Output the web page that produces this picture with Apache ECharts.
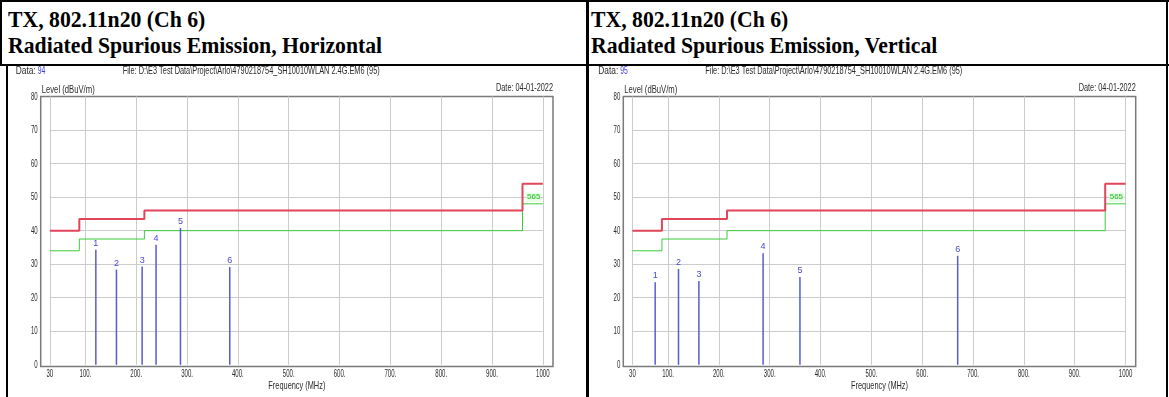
<!DOCTYPE html>
<html>
<head>
<meta charset="utf-8">
<script src="https://cdn.jsdelivr.net/npm/echarts@6/dist/echarts.min.js"></script>
<style>
html,body{margin:0;padding:0;background:#fff;}
#wrap{position:relative;width:1169px;height:397px;overflow:hidden;}
.ttl{position:absolute;top:0;height:64px;overflow:hidden;font-family:"Liberation Serif","Times New Roman",serif;font-weight:bold;font-size:24px;line-height:26px;color:#000;white-space:nowrap;}
.ttl div{padding-top:6px;transform:scaleX(0.905);transform-origin:0 0;}
.bl{position:absolute;background:#000;}
#chart{position:absolute;left:0;top:0;width:1169px;height:397px;}
</style>
</head>
<body>
<div id="wrap">
  <div class="ttl" style="left:8px;width:578px;"><div>TX, 802.11n20 (Ch 6)<br>Radiated Spurious Emission, Horizontal</div></div>
  <div class="ttl" style="left:591px;width:575px;"><div>TX, 802.11n20 (Ch 6)<br>Radiated Spurious Emission, Vertical</div></div>
  <div id="chart"></div>
  <div class="bl" style="left:0;top:0;width:1169px;height:2px;"></div>
  <div class="bl" style="left:0;top:0;width:2px;height:65px;"></div>
  <div class="bl" style="left:6px;top:64px;width:2px;height:333px;"></div>
  <div class="bl" style="left:586px;top:0;width:3px;height:397px;"></div>
  <div class="bl" style="left:1166px;top:0;width:2px;height:397px;"></div>
  <div class="bl" style="left:0;top:64px;width:1169px;height:2px;"></div>
</div>
<script>
// ---- data ----
const xTicks = [30, 100, 200, 300, 400, 500, 600, 700, 800, 900, 1000];
const yTicks = [0, 10, 20, 30, 40, 50, 60, 70, 80];
const limitFreqs = [30, 88, 216, 960, 1000];
const redLimit = [40, 43.5, 46, 54];
const greenLimit = [34, 37.5, 40, 48];
const hFreq = [120.5, 161, 211.6, 239, 287, 384];
const hLevel = [34.3, 28.4, 29.3, 35.8, 40.8, 29.2];
const vFreq = [74.7, 120.6, 160.7, 287, 359.5, 669.8];
const vLevel = [24.6, 28.6, 25.0, 33.3, 26.2, 32.5];
const dataNo = ['94', '95'];
const fileText = 'File: D:\\E3 Test Data\\Project\\Arlo\\4790218754_SH10010WLAN 2.4G.EM6 (95)';
const dateText = 'Date: 04-01-2022';
const xName = 'Frequency (MHz)';
const yName = 'Level (dBuV/m)';
const limitTag = '565';

// ---- build ----
const FONT = '"Liberation Sans",Arial,sans-serif';
const TXT = '#2a2a2a';
const cv = document.createElement('canvas').getContext('2d');
function fitScale(text, size, target){
  cv.font = size + 'px ' + FONT;
  return target / cv.measureText(text).width;
}
function stepPts(levels){
  const pts = [];
  for (let i = 0; i < levels.length; i++){
    pts.push([limitFreqs[i], levels[i]]);
    pts.push([limitFreqs[i+1], levels[i]]);
  }
  return pts;
}
function gridLines(){
  const d = [];
  xTicks.forEach(x => d.push([{coord:[x, 0]}, {coord:[x, 80]}]));
  yTicks.filter(y => y > 0 && y < 80).forEach(y => d.push([{coord:[30, y]}, {coord:[1000, y]}]));
  return d;
}
const grids = [
  {left: 40.7, top: 96.5, width: 512.3, height: 270, show: true, borderColor: '#7a7a7a', borderWidth: 1.5, backgroundColor: 'transparent'},
  {left: 623.3, top: 96.5, width: 512.4, height: 270, show: true, borderColor: '#7a7a7a', borderWidth: 1.5, backgroundColor: 'transparent'}
];
const xAxes = grids.map((g, i) => ({
  type: 'value', gridIndex: i, min: 12, max: 1020,
  axisLine: {show: false}, axisTick: {show: false}, splitLine: {show: false}, axisLabel: {show: false}
}));
const yAxes = grids.map((g, i) => ({
  type: 'value', gridIndex: i, min: -0.5, max: 80,
  axisLine: {show: false}, axisTick: {show: false}, splitLine: {show: false}, axisLabel: {show: false}
}));
const series = [];
const markers = [[hFreq, hLevel], [vFreq, vLevel]];
[0, 1].forEach(i => {
  series.push({type: 'line', xAxisIndex: i, yAxisIndex: i, data: [], silent: true, z: 0,
    markLine: {silent: true, z: 0, symbol: ['none','none'], label: {show: false},
      lineStyle: {color: '#cccccc', width: 1, type: 'solid'}, data: gridLines(), animation: false}});
  series.push({type: 'line', xAxisIndex: i, yAxisIndex: i, data: stepPts(greenLimit), showSymbol: false,
    lineStyle: {color: '#3ccc3c', width: 1}, itemStyle: {color: '#3ccc3c'}, z: 3, animation: false,
    markPoint: {z: 3, symbol: 'rect', symbolSize: [16, 9], itemStyle: {color: 'rgba(210,255,210,0.6)'},
      label: {show: true, formatter: limitTag, color: '#22bb22', fontSize: 8, fontFamily: FONT},
      data: [{coord: [982, 50]}]}});
  series.push({type: 'line', xAxisIndex: i, yAxisIndex: i, data: stepPts(redLimit), showSymbol: false,
    lineStyle: {color: '#e24459', width: 2}, itemStyle: {color: '#e24459'}, z: 4, animation: false});
  series.push({type: 'bar', xAxisIndex: i, yAxisIndex: i, barWidth: 1.5, z: 5, animation: false,
    data: markers[i][0].map((f, k) => [f, markers[i][1][k]]),
    itemStyle: {color: '#5a5ad2'},
    label: {show: true, position: 'top', distance: 2, color: '#4848d0', fontSize: 9, fontFamily: FONT,
      formatter: p => String(p.dataIndex + 1)}});
});
const chart = echarts.init(document.getElementById('chart'), null, {renderer: 'canvas'});
chart.setOption({animation: false, grid: grids, xAxis: xAxes, yAxis: yAxes, series: series});

// ---- texts placed with the axes' own scales ----
const graphic = [];
function txt(x, y, text, opt){
  opt = opt || {};
  const size = opt.size || 10;
  const sx = opt.sx || 0.62;
  graphic.push({type: 'text', x: x, y: y, scaleX: sx, silent: true, z: 10,
    style: {text: text, fill: opt.fill || TXT, font: size + 'px ' + FONT,
      align: opt.align || 'left', verticalAlign: opt.va || 'middle'}});
}
[0, 1].forEach(i => {
  const g = grids[i];
  const finder = {xAxisIndex: i, yAxisIndex: i};
  xTicks.forEach(v => {
    const p = chart.convertToPixel(finder, [v, 0]);
    txt(p[0], g.top + g.height + 7, (v === 30 || v === 1000) ? String(v) : v + '.', {align: 'center', size: 11, sx: 0.55});
  });
  yTicks.forEach(v => {
    const p = chart.convertToPixel(finder, [30, v]);
    txt(g.left - 3, p[1], String(v), {align: 'right', size: 11, sx: 0.55});
  });
  txt(g.left + g.width / 2, g.top + g.height + 19, xName, {align: 'center', size: 11, sx: fitScale(xName, 11, 57)});
  txt(g.left + 1, g.top - 7, yName, {size: 11, sx: fitScale(yName, 11, 53)});
  txt(g.left - 25, 71, 'Data: ', {size: 11, sx: fitScale('Data:', 11, 20)});
  txt(g.left - 3, 71, dataNo[i], {size: 11, sx: 0.62, fill: '#3c3cd8'});
  txt(g.left + 82, 71, fileText, {size: 11, sx: fitScale(fileText, 11, 257)});
  txt(g.left + g.width, 88, dateText, {align: 'right', size: 11, sx: fitScale(dateText, 11, 57)});
});
chart.setOption({graphic: graphic});
</script>
</body>
</html>
